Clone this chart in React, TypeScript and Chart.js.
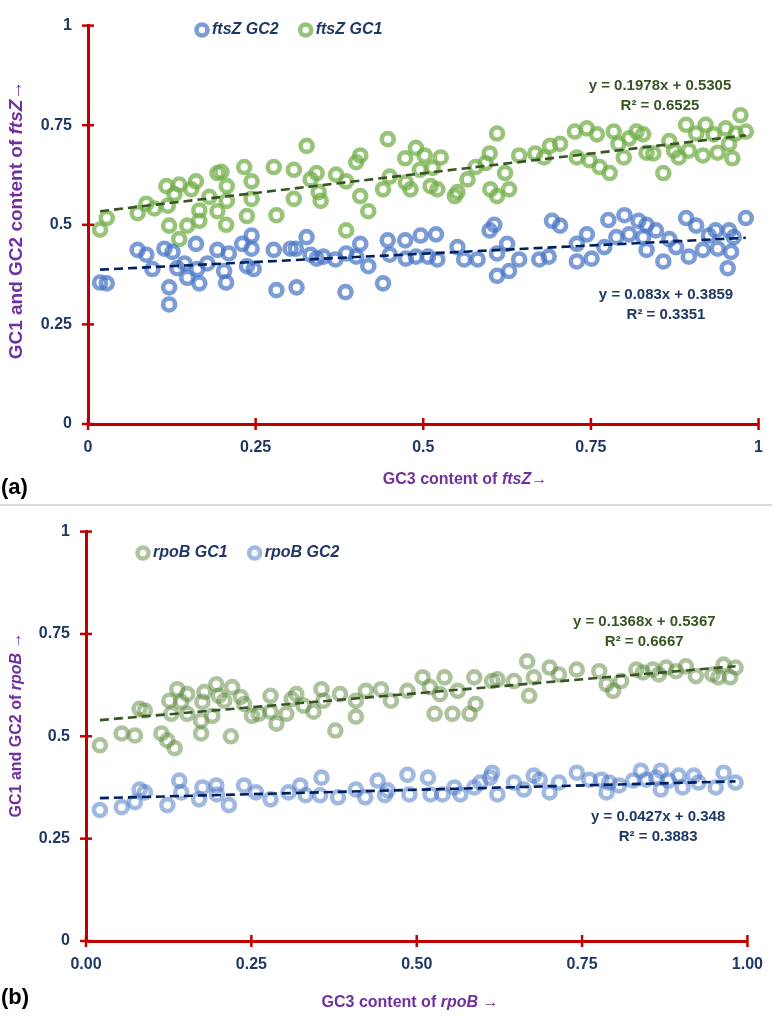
import React, { useEffect, useRef } from "react";
import { Chart, registerables } from "chart.js";

Chart.register(...registerables);

const FONT = '"Liberation Sans", Arial, Helvetica, sans-serif';
const NAVY = "#1f3864";
const PURPLE = "#7030a0";
const RED = "#c00000";

// ---------- axis ticks ----------
const tickValues = [0, 0.25, 0.5, 0.75, 1];
const xTickLabelsA = ["0", "0.25", "0.5", "0.75", "1"];
const xTickLabelsB = ["0.00", "0.25", "0.50", "0.75", "1.00"];
const yTickLabels = ["0", "0.25", "0.5", "0.75", "1"];

// ---------- (a) ftsZ : [GC3, GC1] ----------
const ftszGC1: [number, number][] = [
  [0.018, 0.488], [0.028, 0.517], [0.074, 0.529], [0.087, 0.553], [0.099, 0.541],
  [0.117, 0.597], [0.119, 0.548], [0.129, 0.577], [0.136, 0.601], [0.121, 0.498],
  [0.136, 0.464], [0.148, 0.498], [0.154, 0.589], [0.161, 0.609], [0.166, 0.536],
  [0.166, 0.510], [0.181, 0.570], [0.193, 0.630], [0.199, 0.633], [0.193, 0.534],
  [0.206, 0.500], [0.207, 0.597], [0.207, 0.560], [0.233, 0.645], [0.237, 0.522],
  [0.244, 0.609], [0.244, 0.565], [0.277, 0.645], [0.281, 0.524], [0.307, 0.638],
  [0.307, 0.565], [0.326, 0.698], [0.332, 0.614], [0.341, 0.630], [0.344, 0.582],
  [0.347, 0.560], [0.370, 0.626], [0.385, 0.609], [0.385, 0.486], [0.400, 0.657],
  [0.406, 0.674], [0.406, 0.572], [0.418, 0.534], [0.440, 0.589], [0.447, 0.715],
  [0.450, 0.621], [0.473, 0.667], [0.474, 0.606], [0.481, 0.589], [0.489, 0.693],
  [0.495, 0.638], [0.502, 0.674], [0.514, 0.643], [0.526, 0.669], [0.511, 0.597],
  [0.521, 0.589], [0.547, 0.572], [0.551, 0.582], [0.566, 0.614], [0.578, 0.645],
  [0.593, 0.655], [0.599, 0.679], [0.600, 0.589], [0.610, 0.572], [0.610, 0.729],
  [0.622, 0.630], [0.628, 0.589], [0.643, 0.674], [0.667, 0.679], [0.680, 0.669],
  [0.689, 0.698], [0.704, 0.703], [0.726, 0.734], [0.729, 0.669], [0.744, 0.742],
  [0.748, 0.662], [0.759, 0.727], [0.763, 0.645], [0.778, 0.630], [0.784, 0.734],
  [0.791, 0.703], [0.799, 0.669], [0.807, 0.717], [0.818, 0.734], [0.828, 0.727],
  [0.833, 0.681], [0.843, 0.679], [0.858, 0.630], [0.867, 0.710], [0.874, 0.686],
  [0.881, 0.669], [0.892, 0.751], [0.896, 0.686], [0.907, 0.729], [0.917, 0.674],
  [0.921, 0.751], [0.933, 0.727], [0.939, 0.681], [0.951, 0.742], [0.956, 0.703],
  [0.961, 0.667], [0.966, 0.729], [0.973, 0.775], [0.981, 0.734],
];

// ---------- (a) ftsZ : [GC3, GC2] ----------
const ftszGC2: [number, number][] = [
  [0.018, 0.355], [0.028, 0.353], [0.074, 0.437], [0.087, 0.425], [0.096, 0.389],
  [0.114, 0.440], [0.121, 0.343], [0.121, 0.300], [0.126, 0.432], [0.133, 0.391],
  [0.144, 0.403], [0.148, 0.367], [0.161, 0.452], [0.163, 0.389], [0.166, 0.353],
  [0.178, 0.403], [0.193, 0.437], [0.203, 0.384], [0.206, 0.355], [0.210, 0.428],
  [0.230, 0.452], [0.237, 0.396], [0.244, 0.473], [0.244, 0.440], [0.247, 0.389],
  [0.277, 0.437], [0.281, 0.336], [0.302, 0.440], [0.310, 0.440], [0.311, 0.343],
  [0.326, 0.469], [0.332, 0.425], [0.341, 0.415], [0.351, 0.420], [0.369, 0.413],
  [0.384, 0.331], [0.385, 0.428], [0.400, 0.420], [0.406, 0.452], [0.418, 0.396],
  [0.440, 0.353], [0.447, 0.461], [0.450, 0.425], [0.473, 0.461], [0.474, 0.415],
  [0.489, 0.420], [0.496, 0.473], [0.507, 0.420], [0.519, 0.476], [0.521, 0.413],
  [0.551, 0.444], [0.561, 0.413], [0.581, 0.413], [0.599, 0.486], [0.606, 0.500],
  [0.610, 0.428], [0.610, 0.372], [0.625, 0.452], [0.628, 0.384], [0.643, 0.413],
  [0.673, 0.413], [0.687, 0.420], [0.692, 0.510], [0.704, 0.498], [0.729, 0.452],
  [0.729, 0.408], [0.744, 0.476], [0.751, 0.415], [0.770, 0.444], [0.776, 0.512],
  [0.788, 0.469], [0.800, 0.524], [0.807, 0.476], [0.821, 0.510], [0.828, 0.469],
  [0.833, 0.500], [0.833, 0.437], [0.847, 0.486], [0.858, 0.408], [0.867, 0.464],
  [0.877, 0.444], [0.892, 0.517], [0.896, 0.420], [0.907, 0.498], [0.917, 0.437],
  [0.926, 0.473], [0.936, 0.486], [0.939, 0.440], [0.954, 0.391], [0.956, 0.486],
  [0.959, 0.432], [0.963, 0.469], [0.981, 0.517],
];

// ---------- (b) rpoB : [GC3, GC1] ----------
const rpobGC1: [number, number][] = [
  [0.021, 0.478], [0.054, 0.507], [0.074, 0.502], [0.081, 0.567], [0.089, 0.563],
  [0.114, 0.507], [0.123, 0.490], [0.134, 0.471], [0.126, 0.587], [0.129, 0.555],
  [0.138, 0.615], [0.144, 0.584], [0.153, 0.603], [0.153, 0.555], [0.174, 0.538],
  [0.174, 0.507], [0.176, 0.584], [0.179, 0.608], [0.191, 0.550], [0.197, 0.627],
  [0.201, 0.599], [0.209, 0.587], [0.219, 0.500], [0.221, 0.620], [0.234, 0.596],
  [0.239, 0.579], [0.251, 0.550], [0.261, 0.555], [0.279, 0.560], [0.279, 0.599],
  [0.288, 0.531], [0.303, 0.555], [0.311, 0.591], [0.318, 0.603], [0.329, 0.575],
  [0.344, 0.560], [0.356, 0.615], [0.359, 0.587], [0.377, 0.514], [0.384, 0.603],
  [0.408, 0.548], [0.408, 0.587], [0.423, 0.611], [0.446, 0.615], [0.461, 0.587],
  [0.486, 0.611], [0.509, 0.644], [0.520, 0.620], [0.527, 0.555], [0.535, 0.603],
  [0.542, 0.644], [0.554, 0.555], [0.562, 0.611], [0.580, 0.555], [0.589, 0.579],
  [0.587, 0.644], [0.614, 0.635], [0.622, 0.639], [0.647, 0.635], [0.667, 0.683],
  [0.670, 0.599], [0.677, 0.644], [0.701, 0.668], [0.715, 0.651], [0.742, 0.663],
  [0.776, 0.659], [0.787, 0.627], [0.797, 0.611], [0.809, 0.635], [0.832, 0.663],
  [0.842, 0.656], [0.857, 0.663], [0.866, 0.651], [0.877, 0.668], [0.892, 0.659],
  [0.907, 0.671], [0.922, 0.647], [0.947, 0.651], [0.956, 0.644], [0.964, 0.675],
  [0.982, 0.668], [0.974, 0.644],
];

// ---------- (b) rpoB : [GC3, GC2] ----------
const rpobGC2: [number, number][] = [
  [0.021, 0.320], [0.054, 0.327], [0.074, 0.339], [0.081, 0.370], [0.089, 0.363],
  [0.123, 0.332], [0.141, 0.392], [0.144, 0.363], [0.171, 0.346], [0.176, 0.375],
  [0.197, 0.380], [0.198, 0.358], [0.216, 0.332], [0.239, 0.380], [0.257, 0.363],
  [0.279, 0.346], [0.306, 0.363], [0.324, 0.380], [0.332, 0.356], [0.356, 0.399],
  [0.354, 0.356], [0.381, 0.351], [0.408, 0.370], [0.422, 0.351], [0.441, 0.392],
  [0.452, 0.356], [0.456, 0.368], [0.486, 0.406], [0.489, 0.358], [0.517, 0.399],
  [0.521, 0.358], [0.539, 0.358], [0.557, 0.375], [0.566, 0.358], [0.587, 0.375],
  [0.596, 0.387], [0.614, 0.411], [0.611, 0.399], [0.622, 0.358], [0.647, 0.387],
  [0.662, 0.370], [0.677, 0.404], [0.686, 0.394], [0.701, 0.363], [0.715, 0.387],
  [0.742, 0.411], [0.761, 0.394], [0.779, 0.394], [0.787, 0.363], [0.791, 0.387],
  [0.806, 0.380], [0.827, 0.392], [0.839, 0.416], [0.847, 0.394], [0.862, 0.399],
  [0.869, 0.416], [0.869, 0.370], [0.881, 0.392], [0.896, 0.404], [0.902, 0.375],
  [0.919, 0.404], [0.926, 0.387], [0.952, 0.375], [0.964, 0.411], [0.982, 0.387],
];

// ---------- linear fits: [slope, intercept, R²] ----------
const ftszGC1Fit = [0.1978, 0.5305, 0.6525];
const ftszGC2Fit = [0.083, 0.3859, 0.3351];
const rpobGC1Fit = [0.1368, 0.5367, 0.6667];
const rpobGC2Fit = [0.0427, 0.348, 0.3883];

type Seg = { t: string; i?: boolean };
type Series = { label: string; data: [number, number][]; color: string };
type Fit = { series: number; coef: number[]; lineColor: string; textColor: string; anchor: [number, number] };
type PanelCfg = {
  height: number;
  padTop: number;
  padRight: number;
  yWidth: number;
  xHeight: number;
  xLabels: string[];
  series: Series[];
  fits: Fit[];
  legend: { x: number; y: number };
  yTitle: Seg[];
  yTitleSize: number;
  yTitlePos: [number, number];
  xTitle: Seg[];
  xTitleSize: number;
  xTitlePos: [number, number];
  panelLabel: string;
  panelLabelPos: [number, number];
};

function drawSegs(
  ctx: CanvasRenderingContext2D,
  segs: Seg[],
  size: number,
  color: string,
  cx: number,
  cy: number,
  rotate: boolean
) {
  ctx.save();
  ctx.translate(cx, cy);
  if (rotate) ctx.rotate(-Math.PI / 2);
  const fontFor = (s: Seg) => `${s.i ? "italic " : ""}bold ${size}px ${FONT}`;
  let total = 0;
  for (const s of segs) {
    ctx.font = fontFor(s);
    total += ctx.measureText(s.t).width;
  }
  let x = -total / 2;
  ctx.textBaseline = "middle";
  ctx.textAlign = "left";
  ctx.fillStyle = color;
  for (const s of segs) {
    ctx.font = fontFor(s);
    ctx.fillText(s.t, x, 0);
    x += ctx.measureText(s.t).width;
  }
  ctx.restore();
}

const MARK_R = 6;
const MARK_W = 4.6;

function buildConfig(p: PanelCfg): any {
  const datasets: any[] = p.series.map((s) => ({
    type: "scatter",
    label: s.label,
    data: s.data.map(([x, y]) => ({ x, y })),
    borderColor: s.color,
    backgroundColor: "rgba(255,255,255,0)",
    pointRadius: MARK_R,
    pointHoverRadius: MARK_R,
    pointBorderWidth: MARK_W,
    order: 1,
  }));
  p.fits.forEach((f) => {
    const xs = p.series[f.series].data.map((d) => d[0]);
    const x0 = Math.min(...xs);
    const x1 = Math.max(...xs);
    datasets.push({
      type: "line",
      label: "fit",
      data: [
        { x: x0, y: f.coef[0] * x0 + f.coef[1] },
        { x: x1, y: f.coef[0] * x1 + f.coef[1] },
      ],
      borderColor: f.lineColor,
      borderWidth: 2.6,
      borderDash: [9, 5],
      pointRadius: 0,
      fill: false,
      order: 0,
    });
  });

  const tickFont = { family: FONT, size: 16, weight: "bold" as const };

  const decor = {
    id: "decor",
    afterDraw(chart: any) {
      const ctx: CanvasRenderingContext2D = chart.ctx;
      const { left, bottom } = chart.chartArea;
      const xs = chart.scales.x;
      const ys = chart.scales.y;
      ctx.save();
      // crossing tick marks
      ctx.strokeStyle = RED;
      ctx.lineWidth = 2.5;
      tickValues.forEach((v) => {
        const py = ys.getPixelForValue(v);
        ctx.beginPath();
        ctx.moveTo(left - 6, py);
        ctx.lineTo(left + 6, py);
        ctx.stroke();
        const px = xs.getPixelForValue(v);
        ctx.beginPath();
        ctx.moveTo(px, bottom - 6);
        ctx.lineTo(px, bottom + 6);
        ctx.stroke();
      });
      // equations
      p.fits.forEach((f) => {
        const cx = xs.getPixelForValue(f.anchor[0]);
        const cy = ys.getPixelForValue(f.anchor[1]);
        ctx.font = `bold 15px ${FONT}`;
        ctx.textAlign = "center";
        ctx.textBaseline = "middle";
        ctx.fillStyle = f.textColor;
        ctx.fillText(`y = ${f.coef[0]}x + ${f.coef[1]}`, cx, cy);
        ctx.fillText(`R\u00B2 = ${f.coef[2]}`, cx, cy + 20);
      });
      // legend
      let mx = p.legend.x;
      const my = p.legend.y;
      p.series.forEach((s) => {
        ctx.beginPath();
        ctx.arc(mx, my, MARK_R - 0.5, 0, Math.PI * 2);
        ctx.strokeStyle = s.color;
        ctx.lineWidth = MARK_W;
        ctx.stroke();
        ctx.font = `italic bold 16px ${FONT}`;
        ctx.textAlign = "left";
        ctx.textBaseline = "middle";
        ctx.fillStyle = NAVY;
        ctx.fillText(s.label, mx + 10, my);
        const w = ctx.measureText(s.label).width;
        mx = mx + 10 + w + 20 + 7;
      });
      // axis titles
      drawSegs(ctx, p.yTitle, p.yTitleSize, PURPLE, p.yTitlePos[0], p.yTitlePos[1], true);
      drawSegs(ctx, p.xTitle, p.xTitleSize, PURPLE, p.xTitlePos[0], p.xTitlePos[1], false);
      // panel label
      ctx.font = `bold 22px ${FONT}`;
      ctx.fillStyle = "#000";
      ctx.textAlign = "left";
      ctx.textBaseline = "middle";
      ctx.fillText(p.panelLabel, p.panelLabelPos[0], p.panelLabelPos[1]);
      ctx.restore();
    },
  };

  return {
    type: "scatter",
    data: { datasets },
    options: {
      responsive: false,
      animation: false,
      events: [],
      layout: { padding: { top: p.padTop, right: p.padRight, left: 0, bottom: 0 } },
      plugins: { legend: { display: false }, tooltip: { enabled: false }, title: { display: false } },
      scales: {
        x: {
          type: "linear",
          min: 0,
          max: 1,
          ticks: {
            stepSize: 0.25,
            color: NAVY,
            font: tickFont,
            padding: 14,
            maxRotation: 0,
            autoSkip: false,
            callback: (v: number) => {
              const i = tickValues.indexOf(v);
              return i >= 0 ? p.xLabels[i] : "";
            },
          },
          grid: { display: false, drawTicks: false },
          border: { display: true, color: RED, width: 3 },
          afterFit: (s: any) => {
            s.height = p.xHeight;
          },
        },
        y: {
          type: "linear",
          min: 0,
          max: 1,
          ticks: {
            stepSize: 0.25,
            color: NAVY,
            font: tickFont,
            padding: 16,
            callback: (v: number) => {
              const i = tickValues.indexOf(v);
              return i >= 0 ? yTickLabels[i] : "";
            },
          },
          grid: { display: false, drawTicks: false },
          border: { display: true, color: RED, width: 3 },
          afterFit: (s: any) => {
            s.width = p.yWidth;
          },
        },
      },
    },
    plugins: [decor],
  };
}

const panelA: PanelCfg = {
  height: 504,
  padTop: 10,
  padRight: 14,
  yWidth: 88,
  xHeight: 80,
  xLabels: xTickLabelsA,
  series: [
    { label: "ftsZ GC2", data: ftszGC2, color: "rgba(68,114,196,0.7)" },
    { label: "ftsZ GC1", data: ftszGC1, color: "rgba(112,173,71,0.72)" },
  ],
  fits: [
    { series: 1, coef: ftszGC1Fit, lineColor: "#375623", textColor: "#375623", anchor: [0.853, 0.85] },
    { series: 0, coef: ftszGC2Fit, lineColor: "#002060", textColor: NAVY, anchor: [0.862, 0.324] },
  ],
  legend: { x: 202, y: 30 },
  yTitle: [{ t: "GC1 and GC2 content of " }, { t: "ftsZ", i: true }, { t: "\u2192" }],
  yTitleSize: 19,
  yTitlePos: [17, 220],
  xTitle: [{ t: "GC3 content of " }, { t: "ftsZ", i: true }, { t: "\u2192" }],
  xTitleSize: 16,
  xTitlePos: [465, 480],
  panelLabel: "(a)",
  panelLabelPos: [1, 488],
};

const panelB: PanelCfg = {
  height: 510,
  padTop: 18,
  padRight: 25,
  yWidth: 86,
  xHeight: 75,
  xLabels: xTickLabelsB,
  series: [
    { label: "rpoB GC1", data: rpobGC1, color: "rgba(84,130,53,0.48)" },
    { label: "rpoB GC2", data: rpobGC2, color: "rgba(68,114,196,0.5)" },
  ],
  fits: [
    { series: 0, coef: rpobGC1Fit, lineColor: "#375623", textColor: "#375623", anchor: [0.844, 0.779] },
    { series: 1, coef: rpobGC2Fit, lineColor: "#002060", textColor: NAVY, anchor: [0.865, 0.303] },
  ],
  legend: { x: 143, y: 47 },
  yTitle: [{ t: "GC1 and GC2 of " }, { t: "rpoB", i: true }, { t: " \u2192" }],
  yTitleSize: 16,
  yTitlePos: [17, 219],
  xTitle: [{ t: "GC3 content of " }, { t: "rpoB", i: true }, { t: " \u2192" }],
  xTitleSize: 16,
  xTitlePos: [410, 497],
  panelLabel: "(b)",
  panelLabelPos: [1, 492],
};

function Panel({ cfg }: { cfg: PanelCfg }) {
  const ref = useRef<HTMLCanvasElement>(null);
  useEffect(() => {
    const chart = new Chart(ref.current as HTMLCanvasElement, buildConfig(cfg));
    return () => chart.destroy();
  }, [cfg]);
  return (
    <canvas
      ref={ref}
      width={777}
      height={cfg.height}
      style={{ display: "block", width: 777, height: cfg.height }}
    />
  );
}

export default function App() {
  return (
    <div style={{ position: "absolute", left: 0, top: 0, width: 777, background: "#fff" }}>
      <Panel cfg={panelA} />
      <div style={{ width: 772, height: 0, borderTop: "2px solid #d9d9d9" }} />
      <Panel cfg={panelB} />
    </div>
  );
}
